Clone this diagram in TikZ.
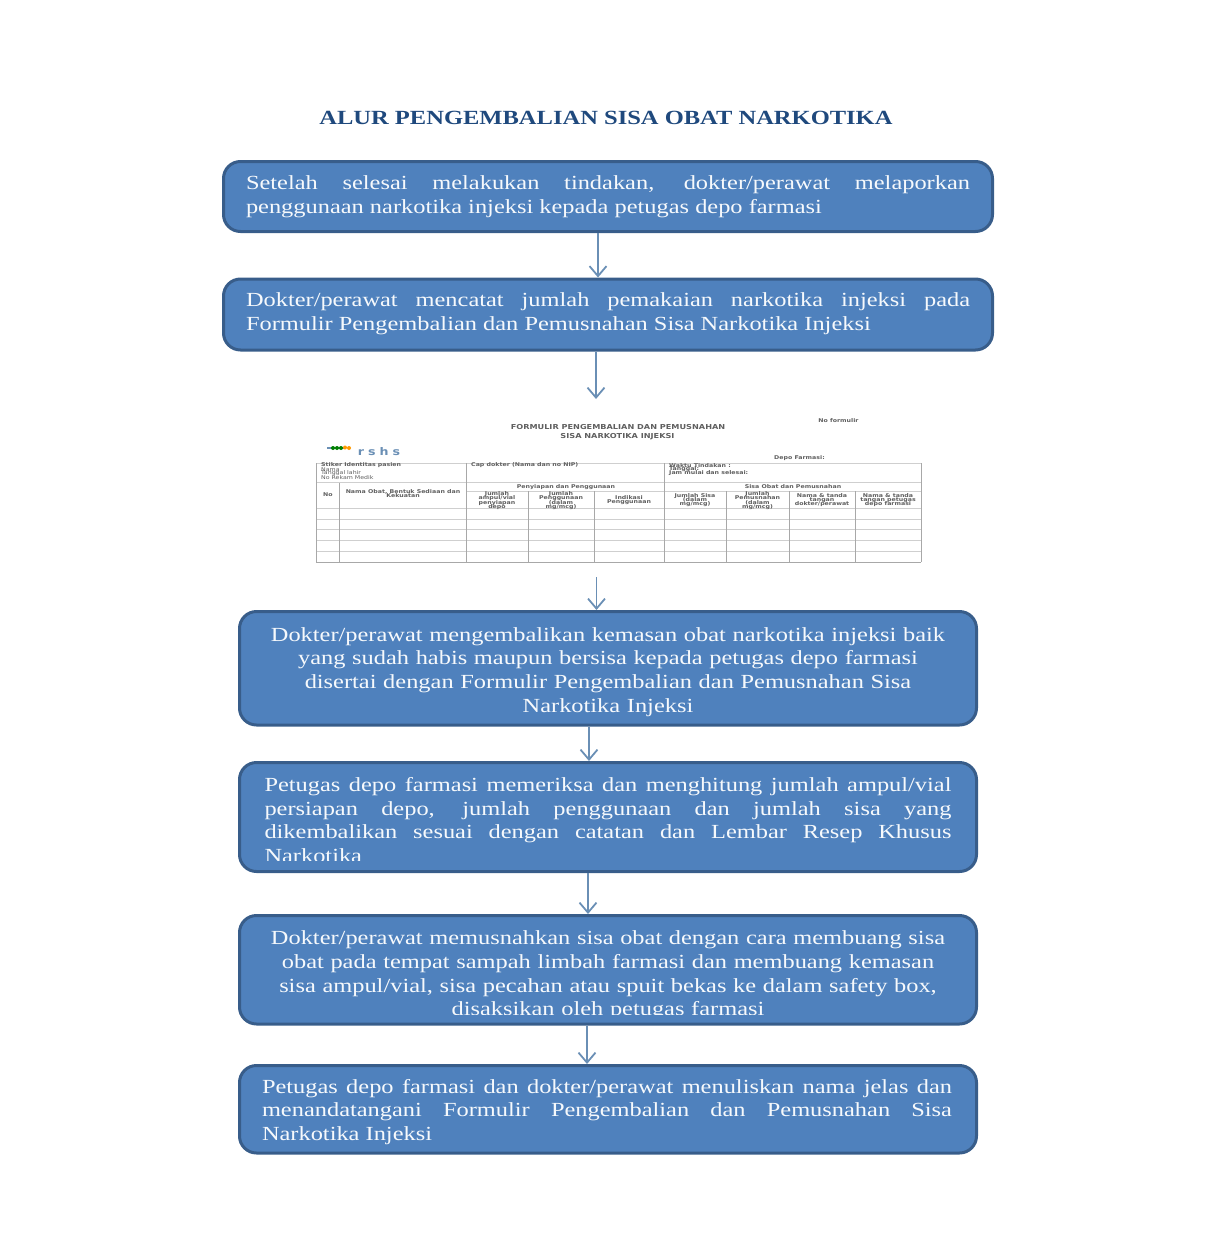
\documentclass[tikz,border=0pt]{standalone}
\usepackage{fontspec}
\usepackage{tikz}
\usetikzlibrary{arrows.meta}
\newfontfamily\stepfamily[FakeStretch=1.22]{Liberation Serif}
\newfontfamily\formfamily[FakeStretch=1.2]{DejaVu Sans}
\definecolor{stepfill}{HTML}{4F81BD}
\definecolor{stepline}{HTML}{385D8A}
\definecolor{stepflow}{HTML}{6A8FB5}
\definecolor{titleblue}{HTML}{1F497D}
\definecolor{formgrid}{HTML}{A8A8A8}
\definecolor{formgridh}{HTML}{CFCFCF}
\definecolor{formtext}{HTML}{5F5F5F}
\tikzset{
  stepbox/.style={draw=stepline, line width=3pt, fill=stepfill, rounded corners=17pt,
    inner sep=0pt, anchor=north west},
  steptext/.style={text=white!95!stepfill, inner sep=0pt,
    font=\stepfamily\fontsize{20}{23.7}\selectfont},
  flow/.style={draw=stepflow, line width=1.8pt, -{Straight Barb[length=10pt,width=17pt]}},
  formlabel/.style={text=formtext, inner sep=0pt, align=center,
    font={\formfamily\bfseries\fontsize{5.2}{4.3}\selectfont\lineskiplimit=-5pt\relax}},
  formleft/.style={formlabel, anchor=west, align=left},
  formplain/.style={formleft, font=\formfamily\fontsize{5.2}{4.3}\selectfont},
  formhead/.style={formlabel, font=\formfamily\bfseries\fontsize{6.8}{8}\selectfont},
  formrule/.style={draw=formgrid, line width=0.8pt},
  formruleh/.style={draw=formgridh, line width=0.8pt}
}
\begin{document}
\begin{tikzpicture}[x=1pt, y=-1pt]
  \useasboundingbox (0,0) rectangle (1213,1250);

  \node (title) at (606,118) [text=titleblue, inner sep=0pt,
    font=\stepfamily\bfseries\fontsize{20.1}{24}\selectfont] {ALUR PENGEMBALIAN SISA OBAT NARKOTIKA};

  % boxes
  \node (setelah) at (222,160) [stepbox, minimum width=769pt, minimum height=70pt] {};
  \node (mencatat) at (222,277.5) [stepbox, minimum width=769pt, minimum height=71pt] {};
  \node (kembali) at (238,610) [stepbox, minimum width=737pt, minimum height=113.5pt] {};
  \node (periksa) at (238,761) [stepbox, minimum width=737pt, minimum height=109pt] {};
  \node (musnah) at (238,914) [stepbox, minimum width=737pt, minimum height=108.5pt] {};
  \node (tanda) at (238,1064) [stepbox, minimum width=737pt, minimum height=87.5pt] {};

  \node (setelahtext) at (608,196.5) [steptext, text width=724pt, align=justify]
    {Setelah selesai melakukan tindakan, dokter/perawat melaporkan\linebreak
     penggunaan narkotika injeksi kepada petugas depo farmasi};
  \node (mencatattext) at (608,314) [steptext, text width=724pt, align=justify]
    {Dokter/perawat mencatat jumlah pemakaian narkotika injeksi pada\linebreak
     Formulir Pengembalian dan Pemusnahan Sisa Narkotika Injeksi};
  \node (kembalitext) at (608,672) [steptext, text width=716pt, align=center]
    {Dokter/perawat mengembalikan kemasan obat narkotika injeksi baik\\
     yang sudah habis maupun bersisa kepada petugas depo farmasi\\
     disertai dengan Formulir Pengembalian dan Pemusnahan Sisa\\
     Narkotika Injeksi};
  \node (tandatext) at (607,1112) [steptext, text width=690pt, align=justify]
    {Petugas depo farmasi dan dokter/perawat menuliskan nama jelas dan\linebreak
     menandatangani Formulir Pengembalian dan Pemusnahan Sisa\linebreak
     Narkotika Injeksi};

  % last lines are cut off by the box
  \begin{scope}
    \clip (238,761) rectangle (977,860.5);
    \node (periksatext) at (608,820) [steptext, text width=687pt, align=justify]
      {Petugas depo farmasi memeriksa dan menghitung jumlah ampul/vial\linebreak
       persiapan depo, jumlah penggunaan dan jumlah sisa yang\linebreak
       dikembalikan sesuai dengan catatan dan Lembar Resep Khusus\linebreak
       Narkotika};
  \end{scope}
  \begin{scope}
    \clip (238,914) rectangle (977,1014);
    \node (musnahtext) at (608,975.5) [steptext, text width=716pt, align=center]
      {Dokter/perawat memusnahkan sisa obat dengan cara membuang sisa\\
       obat pada tempat sampah limbah farmasi dan membuang kemasan\\
       sisa ampul/vial, sisa pecahan atau spuit bekas ke dalam safety box,\\
       disaksikan oleh petugas farmasi};
  \end{scope}

  % form
  \node (nomor) at (838.5,420.5) [formlabel] {No formulir};
  \node (judul) at (618,427.5) [formhead] {FORMULIR PENGEMBALIAN DAN PEMUSNAHAN};
  \node (judulb) at (617.5,436.5) [formhead] {SISA NARKOTIKA INJEKSI};
  \node (depo) at (799.5,458) [formlabel] {Depo Farmasi:};

  \draw[line width=1.6pt, draw=stepflow] (327,448) -- (345,448);
  \fill[green!50!black] (333,448) circle (2pt) (337,448) circle (2pt) (341,448) circle (2pt);
  \fill[orange!80!yellow] (345,447.5) circle (2pt) (349,448) circle (2pt);
  \node (rshs) at (379,451.5) [inner sep=0pt, text=stepflow,
    font=\formfamily\bfseries\fontsize{10.5}{12}\selectfont] {r\hspace{4pt}s\hspace{4pt}h\hspace{4pt}s};

  \draw[formruleh] (316,463) -- (921,463);
  \draw[formruleh] (316,482.5) -- (921,482.5);
  \draw[formruleh] (466,491) -- (921,491);
  \draw[formruleh] (316,508) -- (921,508);
  \draw[formruleh] (316,519) -- (921,519);
  \draw[formruleh] (316,529) -- (921,529);
  \draw[formruleh] (316,540) -- (921,540);
  \draw[formruleh] (316,551) -- (921,551);
  \draw[formrule] (316,562) -- (921,562);
  \draw[formrule] (316,463) -- (316,562);
  \draw[formrule] (921,463) -- (921,562);
  \draw[formrule] (339.5,482.5) -- (339.5,562);
  \draw[formrule] (466,463) -- (466,562);
  \draw[formrule] (528,491) -- (528,562);
  \draw[formrule] (594,491) -- (594,562);
  \draw[formrule] (664,463) -- (664,562);
  \draw[formrule] (726,491) -- (726,562);
  \draw[formrule] (789,491) -- (789,562);
  \draw[formrule] (855,491) -- (855,562);

  \node (stiker) at (321,465.5) [formleft] {Stiker Identitas pasien};
  \node (nama) at (321,469.5) [formplain] {Nama};
  \node (lahir) at (321,473.5) [formplain] {Tanggal lahir};
  \node (rekam) at (321,477.5) [formplain] {No Rekam Medik};
  \node (cap) at (471,465.5) [formleft] {Cap dokter (Nama dan no NIP)};
  \node (waktu) at (669,465.5) [formleft] {Waktu Tindakan :};
  \node (tanggal) at (669,469.5) [formleft] {Tanggal:};
  \node (jam) at (669,473.5) [formleft] {Jam mulai dan selesai:};
  \node (siap) at (566,487) [formlabel] {Penyiapan dan Penggunaan};
  \node (sisa) at (793,487) [formlabel] {Sisa Obat dan Pemusnahan};
  \node (no) at (328,495) [formlabel] {No};
  \node (obat) at (403,493.5) [formlabel] {Nama Obat, Bentuk Sediaan dan\\Kekuatan};
  \node (ampul) at (497,500.5) [formlabel] {Jumlah\\ampul/vial\\penyiapan\\depo};
  \node (pakai) at (561,500.5) [formlabel] {Jumlah\\Penggunaan\\(dalam\\mg/mcg)};
  \node (indikasi) at (629,500) [formlabel] {Indikasi\\Penggunaan};
  \node (jsisa) at (695,500) [formlabel] {Jumlah Sisa\\(dalam\\mg/mcg)};
  \node (jmusnah) at (757.5,500.5) [formlabel] {Jumlah\\Pemusnahan\\(dalam\\mg/mcg)};
  \node (ttddok) at (822,500) [formlabel] {Nama \& tanda\\tangan\\dokter/perawat};
  \node (ttdpet) at (888,500) [formlabel] {Nama \& tanda\\tangan petugas\\depo farmasi};

  % arrows
  \coordinate (formin) at (596,399);
  \coordinate (formout) at (596.5,577);
  \draw[flow] ([xshift=-10pt]setelah.south) -- ([xshift=-10pt]mencatat.north);
  \draw[flow] ([xshift=-12pt]mencatat.south) -- (formin);
  \draw[flow] (formout) -- ([xshift=-11.5pt]kembali.north);
  \draw[flow] ([xshift=-19pt]kembali.south) -- ([xshift=-19pt]periksa.north);
  \draw[flow] ([xshift=-20pt]periksa.south) -- ([xshift=-20pt]musnah.north);
  \draw[flow] ([xshift=-21pt]musnah.south) -- ([xshift=-21pt]tanda.north);
\end{tikzpicture}
\end{document}
